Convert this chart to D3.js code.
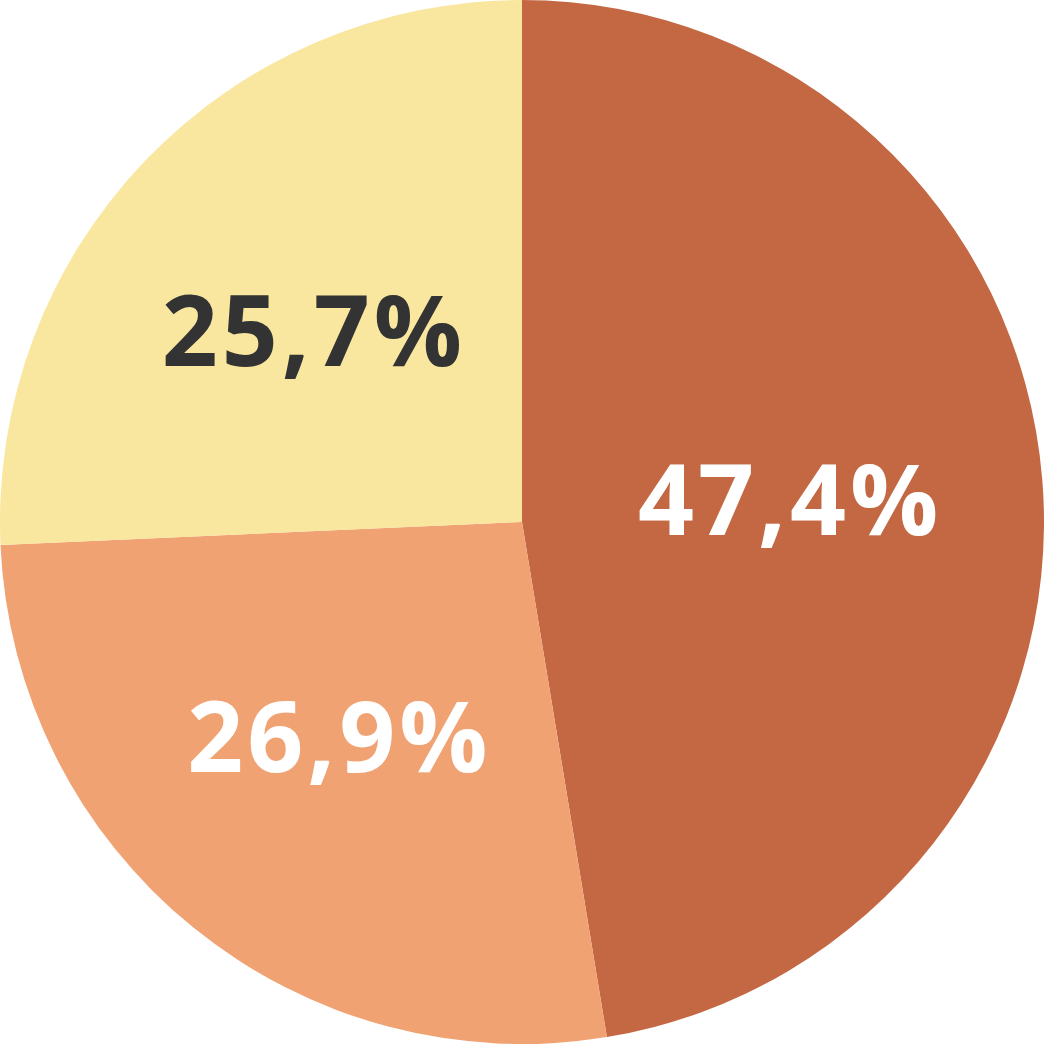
<!DOCTYPE html>
<html>
<head>
<meta charset="utf-8">
<script src="https://cdn.jsdelivr.net/npm/d3@7"></script>
<style>
  html, body { margin: 0; padding: 0; background: #ffffff; }
  #chart { width: 1045px; height: 1044px; }
  .label { font-family: 'Open Sans', sans-serif; font-weight: 700; font-size: 98px; letter-spacing: 4px; }
</style>
</head>
<body>
<div id="chart"></div>
<script>
// slice data, clockwise from 12 o'clock
var categories = ['A', 'B', 'C'];
var values = [47.4, 26.9, 25.7];
var labels = ['47,4%', '26,9%', '25,7%'];
var colors = ['#c36843', '#f0a273', '#f9e69f'];
var textColors = ['#ffffff', '#ffffff', '#333333'];

var w = 1045;
var h = 1044;
var r = 522;

var svg = d3
  .select('#chart')
  .append('svg')
  .attr('width', w)
  .attr('height', h);

var g = svg.append('g').attr('transform', 'translate(' + 522 + ',' + 522 + ')');

var pie = d3
  .pie()
  .sort(null)
  .value(function(d, i) {
    return values[i];
  });

var arcs = pie(categories);

var arc = d3.arc().innerRadius(0).outerRadius(r);
var labelArc = d3.arc().innerRadius(277).outerRadius(277);

g.selectAll('path')
  .data(arcs)
  .enter()
  .append('path')
  .attr('d', arc)
  .attr('fill', function(d, i) {
    return colors[i];
  });

g.selectAll('.label')
  .data(arcs)
  .enter()
  .append('text')
  .attr('class', 'label')
  .attr('transform', function(d) {
    return 'translate(' + labelArc.centroid(d) + ')';
  })
  .attr('text-anchor', 'middle')
  .attr('dx', '-8')
  .attr('dy', '0.36em')
  .attr('fill', function(d, i) {
    return textColors[i];
  })
  .text(function(d, i) {
    return labels[i];
  });
</script>
</body>
</html>
